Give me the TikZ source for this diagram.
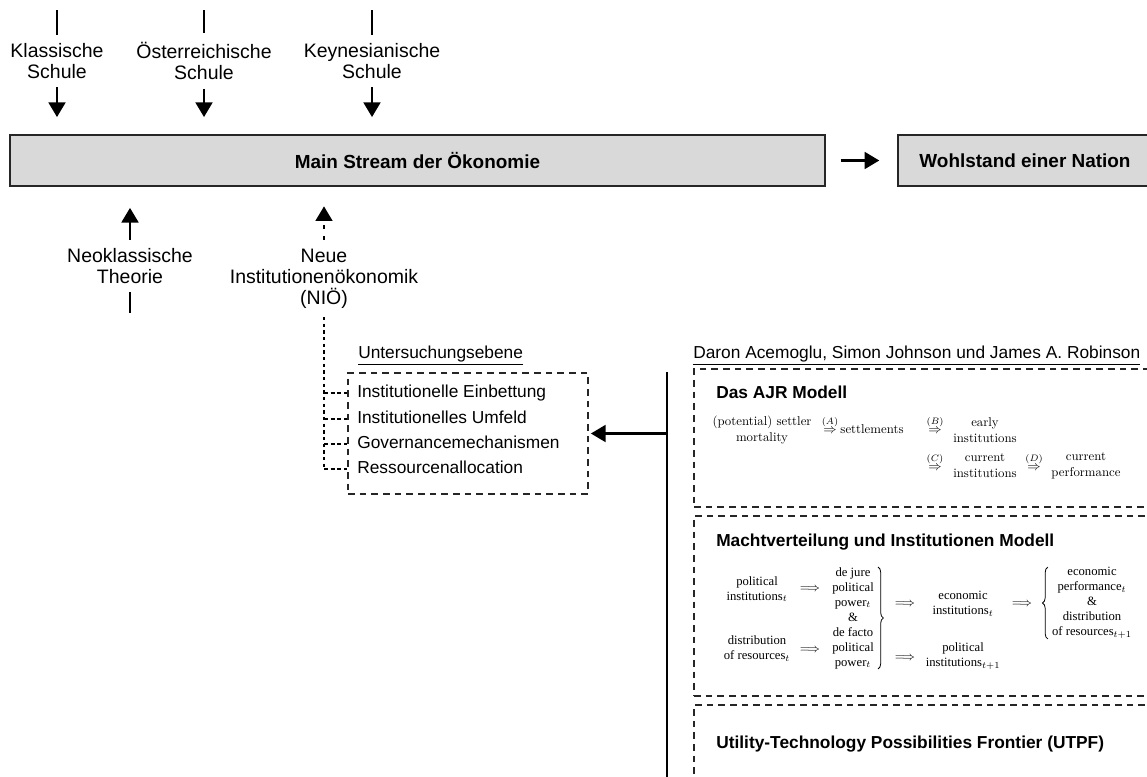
\documentclass[tikz,border=0pt]{standalone}
\usepackage{amsmath}
\usepackage{fontspec}
\setsansfont{Liberation Sans}
\newfontfamily\timesfont{Liberation Serif}
\usepackage{tikz}
\usetikzlibrary{arrows.meta,decorations.pathreplacing}
\definecolor{boxgray}{RGB}{217,217,217}

\begin{document}
\begin{tikzpicture}[x=0.75pt,y=-0.75pt,font=\sffamily,
    >={Triangle[length=11pt,width=12.5pt]},
    thickline/.style={line width=2pt},
    nioline/.style={line width=2pt,dash pattern=on 3pt off 5pt},
    branch/.style={line width=1pt,dash pattern=on 3pt off 2pt},
    curly/.style={decorate,decoration={brace,amplitude=4pt},line width=0.6pt},
    grayblock/.style={draw=black!85,line width=1.5pt,fill=boxgray,minimum height=38pt,
                      font=\sffamily\bfseries\fontsize{14.2}{17}\selectfont},
    dashblock/.style={draw=black!85,line width=1.3pt,dash pattern=on 5pt off 3.75pt},
    school/.style={align=center,inner sep=0pt,font=\sffamily\fontsize{14.6}{15.75}\selectfont},
    level/.style={anchor=west,inner sep=0pt,text height=7pt,text depth=0pt,
                  font=\sffamily\fontsize{13}{15}\selectfont},
    heading/.style={anchor=base west,inner sep=0pt,font=\sffamily\bfseries\fontsize{13}{15}\selectfont},
    ajrtext/.style={align=center,inner sep=0pt,font=\rmfamily\fontsize{9.6}{12}\selectfont},
    machttext/.style={align=center,inner sep=0pt,font=\timesfont\fontsize{9.5}{11.25}\selectfont}]
\useasboundingbox (0,0) rectangle (1147,776);
\clip (0,0) rectangle (1147,776);

\node[grayblock,minimum width=611pt] (ms) at (417.5,160.5) {Main Stream der Ökonomie};
\node[grayblock,minimum width=190pt] (wn) at (1025,160.5) {Wohlstand einer Nation};
\draw[->,thickline,shorten <=11pt,shorten >=13.5pt] (ms) -- (wn);

\begin{scope}[every node/.style={school}]
    \node (ks) at (57,61) {Klassische\\Schule};
    \node (os) at (204,61) {Österreichische\\Schule};
    \node (kn) at (372,61) {Keynesianische\\Schule};
    \node (nk) at (130,266.5) {Neoklassische\\Theorie};
    \node (ni) at (324,279) {Neue\\Institutionenökonomik\\(NIÖ)};
\end{scope}
\coordinate (ks0) at (57,10);
\coordinate (os0) at (204,10);
\coordinate (kn0) at (372,10);
\coordinate (nk0) at (130,313);
\coordinate (ni0) at (324,469);

\foreach \n in {ks,os,kn}{
    \draw[thickline,shorten >=6.4pt] (\n0) -- (\n.north);
    \draw[->,thickline,shorten <=6.4pt,shorten >=12.8pt] (\n.south) -- (\n.south |- ms.north);
}
\draw[->,thickline,shorten <=6.75pt,shorten >=15.75pt] (nk.north) -- (nk.north |- ms.south);
\draw[thickline,shorten <=6pt] (nk.south) -- (nk0);
\draw[->,nioline,shorten <=6.75pt,shorten >=14.6pt] (ni.north) -- (ni.north |- ms.south);
\draw[nioline,dash pattern=on 2.5pt off 2.5pt,shorten <=6pt] (ni.south) -- (ni0);

\node[anchor=base west,inner sep=0pt,font=\sffamily\fontsize{13}{15}\selectfont] (ue) at (358,358) {\underline{Untersuchungsebene}};
\node[dashblock,minimum width=180pt,minimum height=90.75pt] (ub) at (468,433.5) {};
\begin{scope}[every node/.style={level}]
    \node (ie) at (357,393) {Institutionelle Einbettung};
    \node (iu) at (357,419) {Institutionelles Umfeld};
    \node (gm) at (357,444) {Governancemechanismen};
    \node (ra) at (357,469) {Ressourcenallocation};
\end{scope}
\foreach \i in {ie,iu,gm,ra}
    \draw[branch] (ni0 |- \i.west) -- (ub.west |- \i.west);

\coordinate (vt) at (667,372);
\coordinate (vb) at (667,790);
\draw[thickline] (vt) -- (vb);
\draw[->,thickline,shorten >=1.5pt] (ub.east -| vt) -- (ub.east);

\node[anchor=base west,inner sep=0pt,font=\sffamily\fontsize{13}{15}\selectfont] (ajrnames) at (693,358) {\underline{Daron Acemoglu, Simon Johnson und James A. Robinson}};
\node[dashblock,minimum width=351pt,minimum height=103.5pt] (ajr) at (928,438) {};
\node[dashblock,minimum width=351pt,minimum height=135pt] (mi) at (928,606) {};
\node[dashblock,minimum width=351pt,minimum height=82.5pt] (ut) at (928,760) {};
\node[heading] (ajrt) at (716,398) {Das AJR Modell};
\node[heading] (mit) at (716,546) {Machtverteilung und Institutionen Modell};
\node[heading] (utt) at (716,748) {Utility-Technology Possibilities Frontier (UTPF)};

\begin{scope}[every node/.style={ajrtext}]
    \node (pm) at (762,430) {(potential) settler\\mortality};
    \node[anchor=base] (aA) at (830,433) {$\stackrel{(A)}{\Rightarrow}$};
    \node[anchor=base] (st) at (872,433) {settlements};
    \node[anchor=base] (aB) at (935,433) {$\stackrel{(B)}{\Rightarrow}$};
    \node (ea) at (985,430) {early\\institutions};
    \node[anchor=base] (aC) at (935,470) {$\stackrel{(C)}{\Rightarrow}$};
    \node (ci) at (985,466) {current\\institutions};
    \node[anchor=base] (aD) at (1034,470) {$\stackrel{(D)}{\Rightarrow}$};
    \node (cp) at (1086,466) {current\\performance};
\end{scope}

\begin{scope}[every node/.style={machttext}]
    \node (pi) at (757,589) {political\\institutions$_t$};
    \node (m1) at (810,589) {$\Longrightarrow$};
    \node (pw) at (853,618) {de jure\\political\\power$_t$\\\&\\de facto\\political\\power$_t$};
    \node (m2) at (905,604) {$\Longrightarrow$};
    \node (ei) at (963,604) {economic\\institutions$_t$};
    \node (m3) at (1022,604) {$\Longrightarrow$};
    \node (ep) at (1092,603) {economic\\performance$_t$\\\&\\distribution\\of resources$_{t+1}$};
    \node (dr) at (757,648.5) {distribution\\of resources$_t$};
    \node (m4) at (810,650) {$\Longrightarrow$};
    \node (m5) at (905,658) {$\Longrightarrow$};
    \node (pi1) at (963,656) {political\\institutions$_{t+1}$};
\end{scope}
\draw[curly] ([xshift=3pt]pw.north east) -- ([xshift=3pt]pw.south east);
\draw[curly] ([xshift=-3pt]ep.south west) -- ([xshift=-3pt]ep.north west);
\end{tikzpicture}
\end{document}
